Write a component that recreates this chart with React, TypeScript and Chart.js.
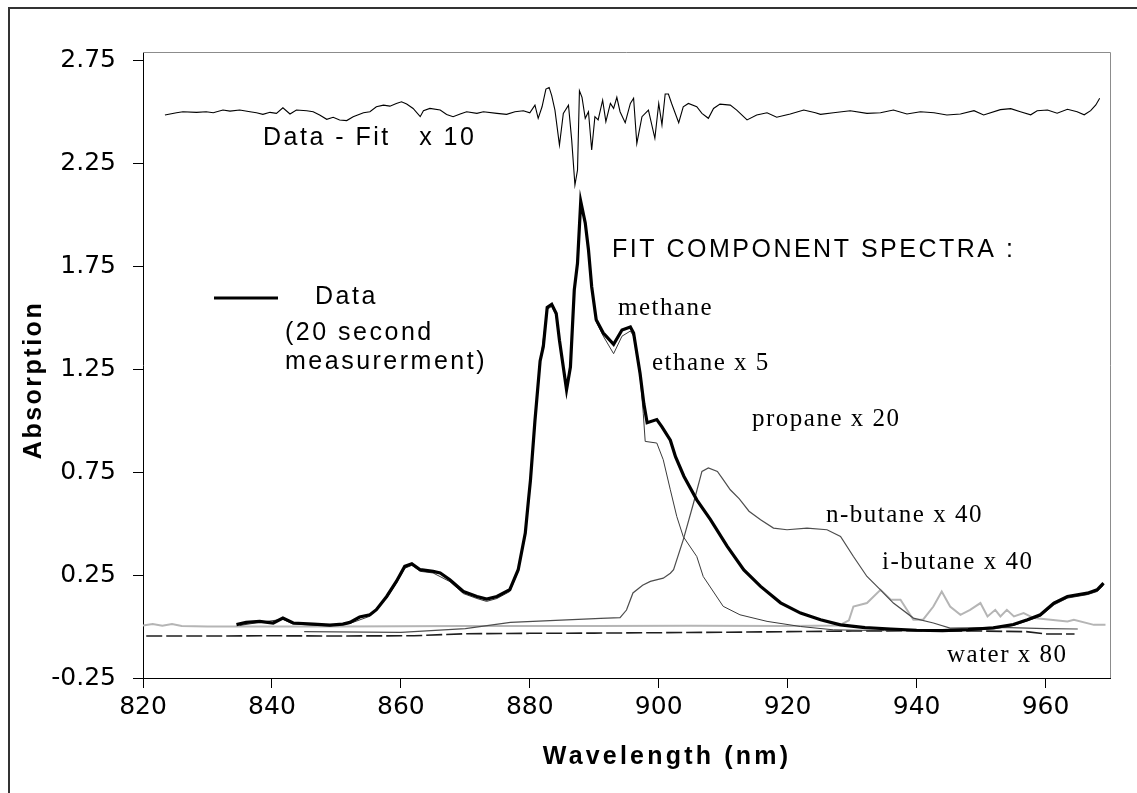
import React, { useEffect, useRef } from "react";
import { Chart, registerables } from "chart.js";

Chart.register(...registerables);

// ---------- axis ticks ----------
const X_TICKS = [820, 840, 860, 880, 900, 920, 940, 960];
const Y_TICKS = [-0.25, 0.25, 0.75, 1.25, 1.75, 2.25, 2.75];

// ---------- Data (20 second measurement) ----------
const dataNm = [834.5, 836, 838.1, 840.2, 841.7, 843.3, 846.4, 849, 851, 852.1, 853.6, 855.2, 856.2, 857.8, 859.3, 860.6, 861.7, 863, 865, 866.1, 867.6, 869.7, 871.8, 873.3, 874.9, 876.9, 878.2, 879.3, 879.8, 880.1, 880.8, 881.6, 882.1, 882.7, 883.4, 884.1, 884.6, 885.7, 886.3, 886.9, 887.4, 887.9, 888.6, 889.1, 889.6, 890.3, 891.4, 893, 894.3, 895.6, 896.1, 897.1, 897.7, 898.2, 899.7, 900.5, 901.8, 902.6, 903.9, 905.9, 908, 910.6, 913.2, 915.8, 918.9, 922, 925.1, 928.2, 932, 936, 940, 944, 948, 951.9, 955, 957.2, 959.2, 961.3, 963.4, 966.5, 968, 969];
const dataAbs = [0.009, 0.02, 0.025, 0.017, 0.041, 0.017, 0.012, 0.007, 0.012, 0.02, 0.046, 0.057, 0.082, 0.146, 0.219, 0.292, 0.305, 0.276, 0.268, 0.26, 0.227, 0.17, 0.146, 0.133, 0.146, 0.179, 0.276, 0.454, 0.616, 0.71, 1.0, 1.29, 1.36, 1.55, 1.565, 1.52, 1.39, 1.15, 1.26, 1.635, 1.765, 2.065, 1.96, 1.83, 1.65, 1.49, 1.425, 1.37, 1.44, 1.455, 1.425, 1.23, 1.08, 0.99, 1.005, 0.97, 0.905, 0.825, 0.73, 0.615, 0.52, 0.39, 0.275, 0.195, 0.115, 0.065, 0.033, 0.008, -0.005, -0.012, -0.018, -0.02, -0.015, -0.006, 0.01, 0.033, 0.057, 0.114, 0.146, 0.162, 0.178, 0.211];

// ---------- methane component ----------
const methaneNm = [835, 838, 841.7, 843.3, 849, 852.1, 855.2, 857.8, 859.3, 860.6, 861.7, 863, 865, 867.6, 869.7, 871.8, 873.3, 874.9, 876.9, 878.2, 879.3, 880.1, 880.8, 881.6, 882.7, 883.4, 884.1, 884.6, 885.7, 886.3, 886.9, 887.4, 887.9, 888.6, 889.1, 889.6, 890.3, 891.4, 893, 894.3, 895.6, 896.1, 897.1, 897.6, 897.9, 899.7, 900.7, 901.8, 902.8, 903.8, 905.9, 906.9, 910, 912.6, 916.8, 922, 927.1, 935, 945, 952, 955, 957.2, 959.2, 961.3, 963.4, 966.5, 968, 969];
const methaneAbs = [0.005, 0.02, 0.035, 0.012, 0.003, 0.015, 0.05, 0.138, 0.21, 0.283, 0.297, 0.268, 0.26, 0.218, 0.16, 0.136, 0.122, 0.136, 0.17, 0.268, 0.445, 0.7, 0.99, 1.28, 1.54, 1.555, 1.51, 1.38, 1.14, 1.25, 1.625, 1.755, 2.055, 1.95, 1.82, 1.64, 1.48, 1.41, 1.325, 1.41, 1.435, 1.41, 1.22, 1.036, 0.899, 0.891, 0.81, 0.664, 0.534, 0.437, 0.34, 0.243, 0.098, 0.057, 0.025, 0.0, -0.016, -0.02, -0.022, -0.012, 0.005, 0.028, 0.05, 0.105, 0.138, 0.155, 0.17, 0.2];

// ---------- propane component ----------
const propaneNm = [845, 860, 870, 877, 884, 891, 894, 895, 896, 897.5, 898.7, 900.7, 901.8, 902.3, 903.8, 905.4, 906.7, 907.7, 909.1, 910, 911.1, 912.5, 914, 915.8, 917.8, 919.9, 923, 926.1, 928.2, 930.2, 932.3, 934.4, 936.4, 939.5, 942.6, 945.2, 953, 960, 965];
const propaneAbs = [-0.025, -0.028, -0.01, 0.02, 0.03, 0.04, 0.043, 0.08, 0.163, 0.2, 0.219, 0.235, 0.259, 0.276, 0.421, 0.6, 0.753, 0.77, 0.753, 0.713, 0.664, 0.62, 0.56, 0.518, 0.478, 0.47, 0.478, 0.47, 0.437, 0.34, 0.243, 0.178, 0.114, 0.041, 0.017, -0.008, -0.004, -0.01, -0.012];

// ---------- i-butane component ----------
const ibutaneNm = [820, 821.5, 823, 824.5, 826, 830, 850, 870, 890, 905, 920, 928, 929.5, 930.2, 932.3, 934.4, 936, 937.5, 939.5, 941, 942.6, 943.9, 945.2, 946.8, 948.3, 949.9, 951, 952.2, 953, 954, 955.1, 956.6, 958.2, 960.8, 963.4, 964.4, 967.5, 969.3];
const ibutaneAbs = [0.005, 0.012, 0.004, 0.012, 0.003, 0.0, 0.0, 0.002, 0.003, 0.004, 0.003, 0.005, 0.03, 0.097, 0.114, 0.178, 0.13, 0.13, 0.033, 0.033, 0.097, 0.17, 0.097, 0.057, 0.081, 0.114, 0.049, 0.081, 0.049, 0.081, 0.049, 0.065, 0.041, 0.033, 0.024, 0.033, 0.008, 0.008];

// ---------- water component ----------
const waterNm = [820.5, 830, 840, 850, 862, 870, 880, 890, 900, 910, 920, 930, 940, 950, 957, 960, 964.5];
const waterAbs = [-0.046, -0.046, -0.045, -0.046, -0.045, -0.035, -0.033, -0.032, -0.03, -0.028, -0.025, -0.022, -0.02, -0.022, -0.025, -0.036, -0.036];

// ---------- Data - Fit x 10 (offset residual) ----------
const residNm = [823.4, 825.2, 826.2, 828.3, 829.8, 830.9, 832.4, 833.5, 835.0, 836.6, 837.6, 838.6, 839.7, 840.7, 841.7, 842.8, 843.8, 845.4, 846.4, 847.4, 848.5, 849.5, 850.5, 851.6, 852.6, 854.2, 855.2, 856.2, 857.3, 858.3, 859.3, 860.1, 860.9, 861.9, 863.0, 863.5, 864.5, 866.1, 867.1, 868.1, 869.2, 870.2, 871.8, 872.8, 874.9, 876.4, 877.7, 879.0, 880.0, 880.8, 881.3, 881.9, 882.5, 883.0, 883.4, 883.9, 884.6, 885.2, 886.0, 886.5, 887.0, 887.4, 887.7, 888.1, 888.6, 889.1, 889.6, 890.1, 890.6, 891.3, 891.8, 892.5, 893.0, 893.5, 894.0, 894.8, 895.6, 896.1, 896.6, 897.4, 898.4, 899.4, 900.0, 900.5, 901.0, 901.5, 902.0, 903.1, 903.8, 904.6, 905.9, 906.7, 907.7, 908.5, 909.5, 911.1, 912.1, 913.7, 915.2, 916.8, 918.3, 920.4, 922.5, 924.3, 925.1, 927.1, 929.7, 932.3, 934.4, 936.4, 938.5, 940.6, 942.7, 944.7, 946.8, 948.9, 950.4, 953.0, 954.6, 956.1, 957.7, 958.7, 960.3, 961.8, 963.4, 964.9, 966.0, 967.0, 967.8, 968.4];
const residAbs = [2.484, 2.495, 2.5, 2.497, 2.5, 2.495, 2.508, 2.503, 2.508, 2.5, 2.495, 2.487, 2.497, 2.492, 2.519, 2.489, 2.508, 2.505, 2.5, 2.484, 2.463, 2.473, 2.46, 2.457, 2.476, 2.495, 2.5, 2.524, 2.532, 2.527, 2.54, 2.548, 2.537, 2.516, 2.476, 2.505, 2.516, 2.508, 2.487, 2.476, 2.489, 2.5, 2.492, 2.5, 2.492, 2.487, 2.5, 2.505, 2.495, 2.532, 2.468, 2.524, 2.61, 2.618, 2.578, 2.508, 2.338, 2.492, 2.532, 2.362, 2.144, 2.216, 2.602, 2.57, 2.468, 2.5, 2.314, 2.476, 2.46, 2.556, 2.452, 2.54, 2.516, 2.57, 2.5, 2.447, 2.54, 2.565, 2.346, 2.476, 2.508, 2.371, 2.54, 2.436, 2.586, 2.586, 2.54, 2.447, 2.524, 2.54, 2.524, 2.492, 2.468, 2.516, 2.537, 2.532, 2.508, 2.46, 2.484, 2.495, 2.473, 2.489, 2.508, 2.495, 2.487, 2.495, 2.505, 2.492, 2.495, 2.508, 2.489, 2.5, 2.495, 2.484, 2.489, 2.505, 2.484, 2.51, 2.515, 2.5, 2.485, 2.505, 2.508, 2.493, 2.512, 2.5, 2.485, 2.505, 2.533, 2.565];

const toPoints = (xs: number[], ys: number[]) => xs.map((x, i) => ({ x, y: ys[i] }));

const SANS = "'Liberation Sans', Arial, sans-serif";
const SERIF = "'Liberation Serif', 'Times New Roman', serif";

export default function App() {
  const ref = useRef<HTMLCanvasElement>(null);

  useEffect(() => {
    const canvas = ref.current;
    if (!canvas) return;

    const decor = {
      id: "decor",
      beforeDraw(chart: any) {
        const ctx = chart.ctx;
        ctx.save();
        ctx.fillStyle = "#ffffff";
        ctx.fillRect(0, 0, chart.width, chart.height);
        ctx.strokeStyle = "#333333";
        ctx.lineWidth = 2;
        ctx.strokeRect(9, 8, 1140, 800);
        ctx.restore();
      },
      beforeDatasetsDraw(chart: any) {
        const { ctx, chartArea } = chart;
        ctx.save();
        ctx.strokeStyle = "#8c8c8c";
        ctx.lineWidth = 1;
        ctx.beginPath();
        ctx.moveTo(chartArea.left, Math.round(chartArea.top) + 0.5);
        ctx.lineTo(Math.round(chartArea.right) + 0.5, Math.round(chartArea.top) + 0.5);
        ctx.lineTo(Math.round(chartArea.right) + 0.5, chartArea.bottom);
        ctx.stroke();
        ctx.restore();
      },
      afterDraw(chart: any) {
        const ctx = chart.ctx;
        const txt = (s: string, x: number, y: number, font: string, spacing: number) => {
          ctx.font = font;
          (ctx as any).letterSpacing = spacing + "px";
          ctx.fillText(s, x, y);
        };
        ctx.save();
        ctx.fillStyle = "#000";
        ctx.textAlign = "left";
        ctx.textBaseline = "alphabetic";

        // annotations
        txt("Data - Fit   x 10", 263, 145, `25px ${SANS}`, 2.5);
        txt("FIT COMPONENT SPECTRA :", 612, 257, `25px ${SANS}`, 2.5);
        txt("methane", 618, 315, `25px ${SERIF}`, 1.5);
        txt("ethane x 5", 652, 370, `25px ${SERIF}`, 1.5);
        txt("propane x 20", 752, 426, `25px ${SERIF}`, 1.5);
        txt("n-butane x 40", 826, 522, `25px ${SERIF}`, 1.5);
        txt("i-butane x 40", 882, 569, `25px ${SERIF}`, 1.5);
        txt("water x 80", 947, 662, `25px ${SERIF}`, 1.5);

        // legend
        ctx.strokeStyle = "#000";
        ctx.lineWidth = 3;
        ctx.beginPath();
        ctx.moveTo(214, 298);
        ctx.lineTo(278, 298);
        ctx.stroke();
        txt("Data", 315, 304, `25px ${SANS}`, 2.5);
        txt("(20 second", 285, 340, `25px ${SANS}`, 2.5);
        txt("measurerment)", 285, 369, `25px ${SANS}`, 2.5);

        // axis titles
        ctx.textAlign = "center";
        txt("Wavelength (nm)", 667, 764, `bold 25px ${SANS}`, 3.2);
        ctx.save();
        ctx.translate(41, 380);
        ctx.rotate(-Math.PI / 2);
        txt("Absorption", 0, 0, `bold 25px ${SANS}`, 2.5);
        ctx.restore();

        (ctx as any).letterSpacing = "0px";
        ctx.restore();
      },
    };

    const line = (label: string, xs: number[], ys: number[], color: string, width: number, extra: any = {}) => ({
      label,
      data: toPoints(xs, ys),
      borderColor: color,
      backgroundColor: color,
      borderWidth: width,
      pointRadius: 0,
      fill: false,
      tension: 0,
      ...extra,
    });

    const chart = new Chart(canvas, {
      type: "line",
      data: {
        datasets: [
          line("Data", dataNm, dataAbs, "#000000", 3.2),
          line("methane", methaneNm, methaneAbs, "#3a3a3a", 1),
          line("propane x 20", propaneNm, propaneAbs, "#4d4d4d", 1.2),
          line("water x 80", waterNm, waterAbs, "#1e1e1e", 1.6, { borderDash: [16, 4] }),
          line("i-butane x 40", ibutaneNm, ibutaneAbs, "#b5b5b5", 2),
          line("Data - Fit x 10", residNm, residAbs, "#000000", 1.1),
        ],
      },
      options: {
        animation: false,
        responsive: false,
        devicePixelRatio: 1,
        layout: { padding: { left: 0, top: 52, right: 27, bottom: 0 } },
        plugins: {
          legend: { display: false },
          tooltip: { enabled: false },
          title: { display: false },
        },
        scales: {
          x: {
            type: "linear",
            min: 820,
            max: 970,
            afterBuildTicks: (s: any) => {
              s.ticks = X_TICKS.map((v) => ({ value: v }));
            },
            afterFit: (s: any) => {
              s.height = 115;
            },
            grid: { display: true, drawOnChartArea: false, drawTicks: true, tickLength: 10, tickColor: "#000", tickWidth: 1 },
            border: { display: true, color: "#000", width: 1 },
            ticks: {
              color: "#000",
              font: { family: "'DejaVu Sans'", size: 25 },
              padding: 4,
              maxRotation: 0,
              autoSkip: false,
              callback: (v: any) => String(v),
            },
          },
          y: {
            type: "linear",
            min: -0.25,
            max: 2.79,
            afterBuildTicks: (s: any) => {
              s.ticks = Y_TICKS.map((v) => ({ value: v }));
            },
            afterFit: (s: any) => {
              s.width = 143;
            },
            grid: { display: true, drawOnChartArea: false, drawTicks: true, tickLength: 10, tickColor: "#000", tickWidth: 1 },
            border: { display: true, color: "#000", width: 1 },
            ticks: {
              color: "#000",
              font: { family: "'DejaVu Sans'", size: 25 },
              padding: 17,
              autoSkip: false,
              callback: (v: any) => Number(v).toFixed(2),
            },
          },
        },
      } as any,
      plugins: [decor],
    });

    return () => chart.destroy();
  }, []);

  return (
    <div style={{ position: "fixed", left: 0, top: 0, width: 1137, height: 793, background: "#fff" }}>
      <canvas ref={ref} width={1137} height={793} style={{ display: "block", width: 1137, height: 793 }} />
    </div>
  );
}
